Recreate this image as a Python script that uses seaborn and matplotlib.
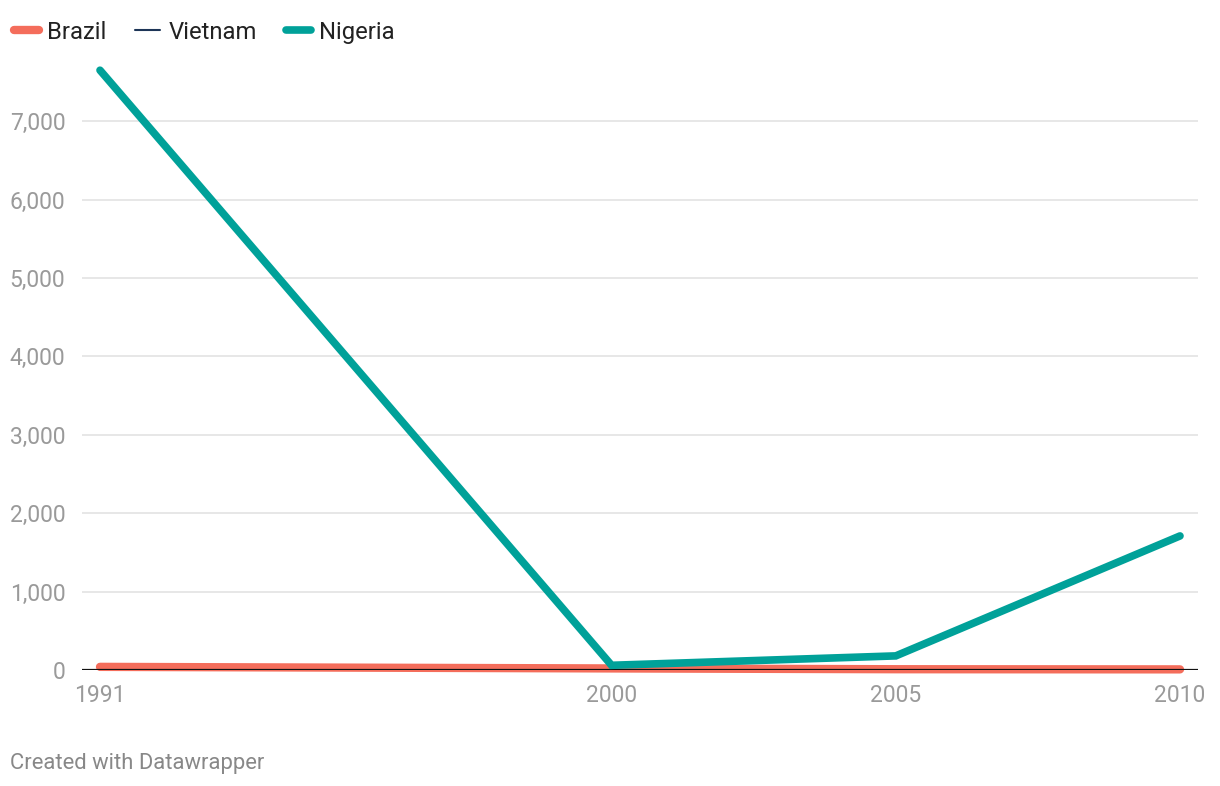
import pandas as pd
import matplotlib
matplotlib.use('Agg')
import matplotlib.pyplot as plt
import seaborn as sns
from matplotlib.ticker import FuncFormatter
from matplotlib.lines import Line2D

# dados
anos = [1991, 2000, 2005, 2010]
brazil = [40, 20, 10, 8]
vietnam = [0, 0, 0, 0]
nigeria = [7650, 60, 180, 1710]

paises = ['Brazil', 'Vietnam', 'Nigeria']
cores = {'Brazil': '#f46d5b', 'Vietnam': '#1d3557', 'Nigeria': '#00a199'}
larguras = {'Brazil': 6, 'Vietnam': 1.3, 'Nigeria': 5.5}

df = pd.DataFrame({
    'ano': anos * 3,
    'valor': brazil + vietnam + nigeria,
    'pais': ['Brazil'] * 4 + ['Vietnam'] * 4 + ['Nigeria'] * 4,
})

sns.set_theme(style='white')
plt.rcParams['font.family'] = ['Roboto', 'DejaVu Sans']

fig = plt.figure(figsize=(12.2, 7.86), dpi=100)
# eixo posicionado em pixels
W, H = 1220, 786
ax = fig.add_axes([82 / W, (H - 670) / H, (1198 - 82) / W, (670 - 66.3) / H])

sns.lineplot(data=df, x='ano', y='valor', hue='pais', hue_order=paises,
             palette=cores, ax=ax, legend=False)
for linha, p in zip(ax.lines, paises):
    linha.set_linewidth(larguras[p])
    linha.set_solid_capstyle('round')
    linha.set_solid_joinstyle('miter')
    linha.set_clip_on(False)
# Nigeria por cima
ax.lines[2].set_zorder(4)
ax.lines[0].set_zorder(3)

ax.set_xlim(1991 - 18 / 56.84, 2010 + 18 / 56.84)
ax.set_ylim(0, 7700)
ax.set_xticks(anos)
ax.set_yticks(range(0, 8000, 1000))
ax.yaxis.set_major_formatter(FuncFormatter(lambda v, _: f'{int(v):,}'))
ax.grid(axis='y', color='#e3e3e3', linewidth=1.2)
ax.axhline(0, color='#111111', linewidth=1.6, zorder=3.5)
for s in ax.spines.values():
    s.set_visible(False)
ax.tick_params(axis='both', length=0, labelsize=16.5, labelcolor='#9a9a9a')
ax.tick_params(axis='y', pad=12)
ax.tick_params(axis='x', pad=10)
ax.set_xlabel('')
ax.set_ylabel('')

# legenda manual
handles = [Line2D([], [], color=cores[p], linewidth=larguras[p] if p != 'Vietnam' else 1.5,
                  solid_capstyle='round') for p in paises]
fig.legend(handles, paises, loc='upper left', bbox_to_anchor=(4 / W, 1 - 11 / H), ncol=3,
           frameon=False, fontsize=17.2, handlelength=1.05, handletextpad=0.35,
           columnspacing=1.2, labelcolor='#222222', borderaxespad=0.2, borderpad=0.2)

fig.text(10 / W, 1 - 763 / H, 'Created with Datawrapper', fontsize=15.8,
         color='#888888', va='center', ha='left')

fig.savefig('out.png', dpi=100)
